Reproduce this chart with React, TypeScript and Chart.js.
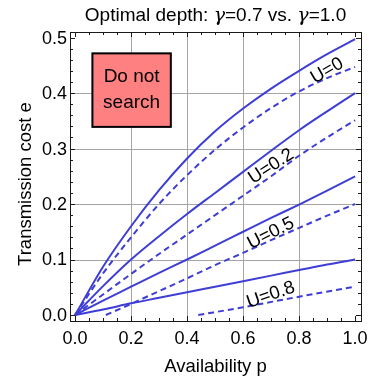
import React, { useEffect, useRef } from "react";
import { Chart, registerables } from "chart.js";

Chart.register(...registerables);

// ---- data ----
const pValues = [0, 0.1, 0.2, 0.3, 0.4, 0.5, 0.6, 0.7, 0.8, 0.9, 1.0];
const solidU0 = [0, 0.087, 0.16, 0.225, 0.282, 0.331, 0.372, 0.408, 0.44, 0.47, 0.497];
const dashU0 = [0, 0.075, 0.14, 0.2, 0.252, 0.298, 0.338, 0.373, 0.403, 0.427, 0.447];
const solidU02 = [0, 0.052, 0.1, 0.142, 0.182, 0.22, 0.258, 0.296, 0.333, 0.367, 0.4];
const dashU02 = [0, 0.037, 0.074, 0.11, 0.145, 0.18, 0.215, 0.25, 0.287, 0.32, 0.351];
const solidU05 = [0, 0.026, 0.051, 0.076, 0.1, 0.125, 0.15, 0.175, 0.199, 0.224, 0.25];
const pDashU05 = [0.11, 0.2, 0.3, 0.4, 0.5, 0.6, 0.7, 0.8, 0.9, 1.0];
const dashU05 = [0, 0.02, 0.043, 0.066, 0.09, 0.112, 0.135, 0.157, 0.179, 0.2];
const solidU08 = [0, 0.01, 0.021, 0.031, 0.041, 0.051, 0.061, 0.071, 0.081, 0.091, 0.1];
const pDashU08 = [0.44, 0.6, 0.8, 1.0];
const dashU08 = [0, 0.014, 0.033, 0.051];

const xTicks = [0, 0.2, 0.4, 0.6, 0.8, 1.0];
const xTickLabels = ["0.0", "0.2", "0.4", "0.6", "0.8", "1.0"];
const yTicks = [0, 0.1, 0.2, 0.3, 0.4, 0.5];
const yTickLabels = ["0.0", "0.1", "0.2", "0.3", "0.4", "0.5"];
const xGridLines = [0.2, 0.4, 0.6, 0.8];
const yGridLines = [0.1, 0.2, 0.3, 0.4];

const curveLabels = ["U=0", "U=0.2", "U=0.5", "U=0.8"];
const curveLabelP = [0.9, 0.7, 0.699, 0.699];
const curveLabelE = [0.44, 0.2676, 0.147, 0.036];
const curveLabelAngle = [-30, -33, -27, -19];

const titleParts: [string, boolean][] = [
  ["Optimal depth: ", false],
  ["\u03b3", true],
  ["=0.7 vs. ", false],
  ["\u03b3", true],
  ["=1.0", false],
];
const xTitle = "Availability p";
const yTitle = "Transmission cost e";
const boxText = ["Do not", "search"];
const boxP = [0.062, 0.342];
const boxE = [0.339, 0.4715];

const FONT = "'Liberation Sans', Arial, Helvetica, sans-serif";
const BLUE = "rgb(62,62,214)";

const toXY = (xs: number[], ys: number[]) => xs.map((x, i) => ({ x, y: ys[i] }));

const decorPlugin = {
  id: "decor",
  beforeDatasetsDraw(chart: any) {
    const { ctx, chartArea: a, scales } = chart;
    const xs = scales.x, ys = scales.y;
    ctx.save();
    ctx.strokeStyle = "rgb(165,165,165)";
    ctx.lineWidth = 1;
    xGridLines.forEach((v) => {
      const px = Math.round(xs.getPixelForValue(v)) + 0.5;
      ctx.beginPath();
      ctx.moveTo(px, a.top);
      ctx.lineTo(px, a.bottom);
      ctx.stroke();
    });
    yGridLines.forEach((v) => {
      const py = Math.round(ys.getPixelForValue(v)) + 0.5;
      ctx.beginPath();
      ctx.moveTo(a.left, py);
      ctx.lineTo(a.right, py);
      ctx.stroke();
    });
    // box
    const bx0 = xs.getPixelForValue(boxP[0]);
    const bx1 = xs.getPixelForValue(boxP[1]);
    const by0 = ys.getPixelForValue(boxE[1]);
    const by1 = ys.getPixelForValue(boxE[0]);
    ctx.fillStyle = "rgb(255,128,128)";
    ctx.fillRect(bx0, by0, bx1 - bx0, by1 - by0);
    ctx.strokeStyle = "#000";
    ctx.lineWidth = 2;
    ctx.strokeRect(bx0, by0, bx1 - bx0, by1 - by0);
    ctx.fillStyle = "#000";
    ctx.font = `19px ${FONT}`;
    ctx.textAlign = "center";
    ctx.textBaseline = "middle";
    const cx = (bx0 + bx1) / 2;
    const cy = (by0 + by1) / 2;
    ctx.fillText(boxText[0], cx, cy - 13);
    ctx.fillText(boxText[1], cx, cy + 13);
    ctx.restore();
  },
  afterDatasetsDraw(chart: any) {
    const { ctx, chartArea: a, scales } = chart;
    const xs = scales.x, ys = scales.y;
    ctx.save();
    // frame
    ctx.strokeStyle = "#1a1a1a";
    ctx.lineWidth = 1;
    ctx.strokeRect(Math.round(a.left) + 0.5, Math.round(a.top) + 0.5, Math.round(a.right - a.left), Math.round(a.bottom - a.top));
    // ticks
    const drawXTick = (v: number, len: number) => {
      const px = Math.round(xs.getPixelForValue(v)) + 0.5;
      ctx.beginPath();
      ctx.moveTo(px, a.bottom);
      ctx.lineTo(px, a.bottom - len);
      ctx.moveTo(px, a.top);
      ctx.lineTo(px, a.top + len);
      ctx.stroke();
    };
    const drawYTick = (v: number, len: number) => {
      const py = Math.round(ys.getPixelForValue(v)) + 0.5;
      ctx.beginPath();
      ctx.moveTo(a.left, py);
      ctx.lineTo(a.left + len, py);
      ctx.moveTo(a.right, py);
      ctx.lineTo(a.right - len, py);
      ctx.stroke();
    };
    for (let i = 0; i <= 20; i++) {
      drawXTick(i * 0.05, i % 4 === 0 ? 5 : 3);
    }
    for (let i = 0; i <= 25; i++) {
      drawYTick(i * 0.02, i % 5 === 0 ? 5 : 3);
    }
    // tick labels
    ctx.fillStyle = "#000";
    ctx.font = `18px ${FONT}`;
    ctx.textAlign = "center";
    ctx.textBaseline = "top";
    xTicks.forEach((v, i) => {
      ctx.fillText(xTickLabels[i], xs.getPixelForValue(v), a.bottom + 9);
    });
    ctx.textAlign = "right";
    ctx.textBaseline = "middle";
    yTicks.forEach((v, i) => {
      ctx.fillText(yTickLabels[i], a.left - 3, ys.getPixelForValue(v) + 1);
    });
    // axis titles
    ctx.font = `18.5px ${FONT}`;
    ctx.textAlign = "center";
    ctx.textBaseline = "alphabetic";
    ctx.fillText(xTitle, (a.left + a.right) / 2, 372);
    ctx.save();
    ctx.translate(31, 184);
    ctx.rotate(-Math.PI / 2);
    ctx.fillText(yTitle, 0, 0);
    ctx.restore();
    // title
    const normal = `19px ${FONT}`;
    const italic = `italic 19px 'DejaVu Serif', 'Liberation Serif', serif`;
    let total = 0;
    titleParts.forEach(([t, it]) => {
      ctx.font = it ? italic : normal;
      total += ctx.measureText(t).width;
    });
    let x = (a.left + a.right) / 2 - total / 2;
    ctx.textAlign = "left";
    titleParts.forEach(([t, it]) => {
      ctx.font = it ? italic : normal;
      ctx.fillText(t, x, 21);
      x += ctx.measureText(t).width;
    });
    // curve labels
    ctx.font = `18.5px ${FONT}`;
    ctx.textAlign = "center";
    ctx.textBaseline = "middle";
    curveLabels.forEach((t, i) => {
      ctx.save();
      ctx.translate(xs.getPixelForValue(curveLabelP[i]), ys.getPixelForValue(curveLabelE[i]));
      ctx.rotate((curveLabelAngle[i] * Math.PI) / 180);
      ctx.fillText(t, 0, 0);
      ctx.restore();
    });
    ctx.restore();
  },
};

export default function App() {
  const ref = useRef<HTMLCanvasElement | null>(null);
  useEffect(() => {
    document.body.style.margin = "0";
    const canvas = ref.current;
    if (!canvas) return;
    const solid = (d: number[], xsv: number[] = pValues) => ({
      data: toXY(xsv, d),
      borderColor: BLUE,
      borderWidth: 2,
      pointRadius: 0,
      cubicInterpolationMode: "monotone" as const,
      fill: false,
    });
    const dashed = (d: number[], xsv: number[] = pValues) => ({
      ...solid(d, xsv),
      borderDash: [6, 4],
    });
    const chart = new Chart(canvas, {
      type: "line",
      data: {
        datasets: [
          solid(solidU0),
          dashed(dashU0),
          solid(solidU02),
          dashed(dashU02),
          solid(solidU05),
          dashed(dashU05, pDashU05),
          solid(solidU08),
          dashed(dashU08, pDashU08),
        ] as any,
      },
      options: {
        responsive: false,
        animation: false,
        devicePixelRatio: 1,
        layout: { padding: { left: 70, top: 32, right: 8, bottom: 56 } },
        plugins: { legend: { display: false }, tooltip: { enabled: false }, title: { display: false } },
        scales: {
          x: { type: "linear", min: -0.018, max: 1.021, display: false },
          y: { type: "linear", min: -0.0108, max: 0.51, display: false },
        },
      },
      plugins: [decorPlugin],
    });
    return () => chart.destroy();
  }, []);
  return <canvas ref={ref} width={369} height={377} style={{ display: "block" }} />;
}
